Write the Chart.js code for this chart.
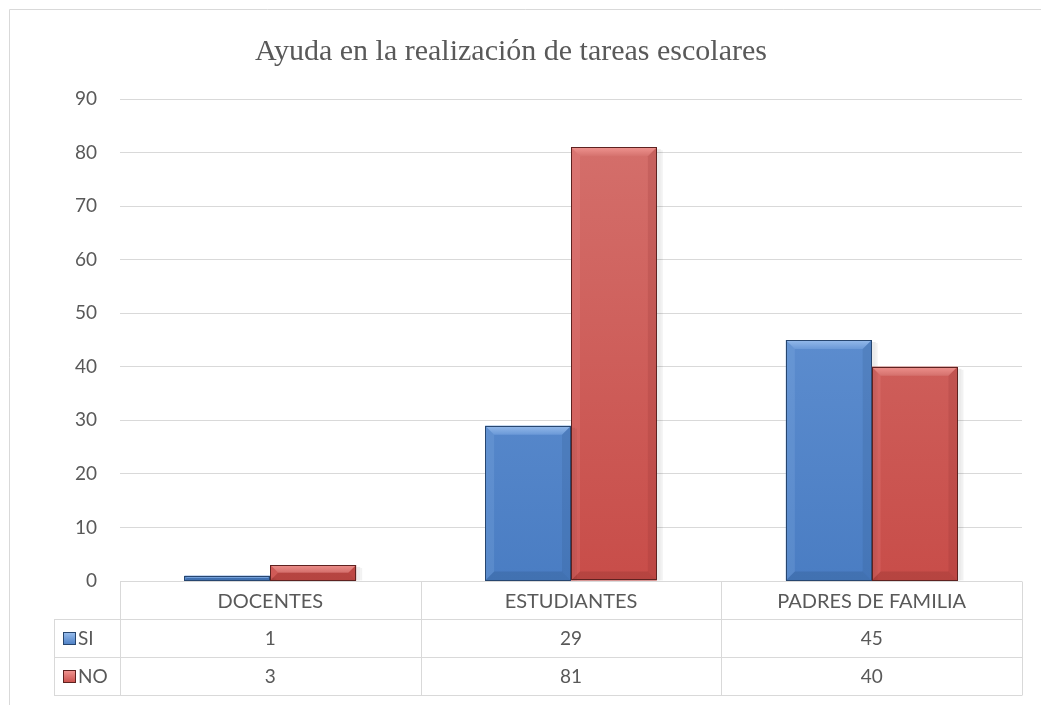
<!DOCTYPE html>
<html>
<head>
<meta charset="utf-8">
<script src="https://cdn.jsdelivr.net/npm/chart.js@4/dist/chart.umd.min.js"></script>
<style>
html,body{margin:0;padding:0;background:#fff;}
#wrap{width:1041px;height:705px;position:relative;}
</style>
</head>
<body>
<div id="wrap"><canvas id="c" width="1041" height="705"></canvas></div>
<script>
const titleText = 'Ayuda en la realización de tareas escolares';
const categories = ['DOCENTES', 'ESTUDIANTES', 'PADRES DE FAMILIA'];
const seriesNames = ['SI', 'NO'];
const siValues = [1, 29, 45];
const noValues = [3, 81, 40];
const yTicks = [0, 10, 20, 30, 40, 50, 60, 70, 80, 90];

const FONT = 'Lato';
const TXT = '#595959';
const LINE = '#d9d9d9';
const ROW_H = 38;
const LEGEND_LEFT = 54;

const palette = {
  SI: {top: '#6d9bd9', bottom: '#4a7dc3', light: '#9cc0ee', dark: '#2c5286', edge: '#27466f'},
  NO: {top: '#d5726e', bottom: '#c84d49', light: '#f29894', dark: '#8a2e2b', edge: '#5e2220'}
};

function grad(ctx, p) {
  const area = ctx.chart.chartArea;
  if (!area) return p.bottom;
  const g = ctx.chart.ctx.createLinearGradient(0, area.top, 0, area.bottom);
  g.addColorStop(0, p.top);
  g.addColorStop(1, p.bottom);
  return g;
}

const framePlugin = {
  id: 'frame',
  beforeDraw(chart) {
    const c = chart.ctx;
    c.save();
    c.strokeStyle = LINE;
    c.lineWidth = 1;
    c.beginPath();
    c.moveTo(9.5, 705); c.lineTo(9.5, 9.5); c.lineTo(1041, 9.5);
    c.stroke();
    c.restore();
  }
};

const bevelPlugin = {
  id: 'bevel',
  afterDatasetsDraw(chart) {
    const c = chart.ctx;
    chart.data.datasets.forEach((ds, di) => {
      const p = palette[ds.label];
      chart.getDatasetMeta(di).data.forEach(el => {
        const {x, y, base, width} = el.getProps(['x','y','base','width'], true);
        const l = x - width/2, r = x + width/2, t = y, b = base;
        const h = b - t;
        const bv = Math.min(9, h/2, width/4);
        c.save();
        c.fillStyle = 'rgba(0,0,0,0.08)';
        c.fillRect(r, t + 2, 4, h - 2);
        c.fillStyle = 'rgba(0,0,0,0.05)';
        c.fillRect(r + 4, t + 3, 2, h - 3);
        c.beginPath();
        c.moveTo(l, t); c.lineTo(r, t); c.lineTo(r - bv, t + bv); c.lineTo(l + bv, t + bv); c.closePath();
        const tg = c.createLinearGradient(0, t, 0, t + bv);
        tg.addColorStop(0, p.light); tg.addColorStop(1, p.top);
        c.fillStyle = tg; c.globalAlpha = 0.9; c.fill();
        c.beginPath();
        c.moveTo(l, t); c.lineTo(l + bv, t + bv); c.lineTo(l + bv, b - bv); c.lineTo(l, b); c.closePath();
        c.fillStyle = p.light; c.globalAlpha = 0.18; c.fill();
        c.beginPath();
        c.moveTo(r, t); c.lineTo(r - bv, t + bv); c.lineTo(r - bv, b - bv); c.lineTo(r, b); c.closePath();
        c.fillStyle = p.dark; c.globalAlpha = 0.18; c.fill();
        c.beginPath();
        c.moveTo(l, b); c.lineTo(l + bv, b - bv); c.lineTo(r - bv, b - bv); c.lineTo(r, b); c.closePath();
        c.fillStyle = p.dark; c.globalAlpha = 0.28; c.fill();
        c.globalAlpha = 1;
        c.strokeStyle = p.edge; c.lineWidth = 1;
        c.strokeRect(Math.round(l) + 0.5, Math.round(t) + 0.5, Math.round(width) - 1, Math.round(h) - 1);
        c.restore();
      });
    });
  }
};

const tablePlugin = {
  id: 'dataTable',
  afterDraw(chart) {
    const c = chart.ctx;
    const xs = chart.scales.x;
    const area = chart.chartArea;
    const top = area.bottom;
    const L = area.left, R = area.right;
    const n = categories.length;
    const step = (R - L) / n;
    c.save();
    c.strokeStyle = LINE;
    c.lineWidth = 1;
    c.beginPath();
    c.moveTo(L, Math.round(top) + 0.5); c.lineTo(R, Math.round(top) + 0.5);
    for (let i = 1; i <= seriesNames.length; i++) {
      const yy = Math.round(top + ROW_H * i) + 0.5;
      c.moveTo(LEGEND_LEFT, yy); c.lineTo(R, yy);
    }
    const bottom = Math.round(top + ROW_H * (seriesNames.length + 1)) + 0.5;
    c.moveTo(LEGEND_LEFT, bottom); c.lineTo(R, bottom);
    c.moveTo(LEGEND_LEFT + 0.5, Math.round(top + ROW_H) + 0.5); c.lineTo(LEGEND_LEFT + 0.5, bottom);
    for (let i = 0; i <= n; i++) {
      const xx = Math.round(L + step * i) + 0.5;
      c.moveTo(xx, Math.round(top) + 0.5); c.lineTo(xx, bottom);
    }
    c.stroke();

    const rows = [siValues, noValues];
    c.font = '19px ' + FONT;
    c.fillStyle = TXT;
    c.textBaseline = 'middle';
    rows.forEach((vals, ri) => {
      const cy = top + ROW_H * (ri + 1) + ROW_H / 2 + 1;
      c.textAlign = 'center';
      c.fillStyle = TXT;
      vals.forEach((v, ci) => {
        c.fillText(String(v), xs.getPixelForValue(ci), cy);
      });
      const p = palette[seriesNames[ri]];
      const kx = LEGEND_LEFT + 9, ky = Math.round(cy - 7), ks = 13;
      const g = c.createLinearGradient(0, ky, 0, ky + ks);
      g.addColorStop(0, p.light); g.addColorStop(1, p.bottom);
      c.fillStyle = g;
      c.fillRect(kx, ky, ks, ks);
      c.strokeStyle = p.edge;
      c.strokeRect(kx + 0.5, ky + 0.5, ks - 1, ks - 1);
      c.fillStyle = TXT;
      c.textAlign = 'left';
      c.fillText(seriesNames[ri], kx + ks + 2, cy);
    });
    c.restore();
  }
};

new Chart(document.getElementById('c'), {
  type: 'bar',
  data: {
    labels: categories,
    datasets: [
      {label: seriesNames[0], data: siValues, backgroundColor: ctx => grad(ctx, palette.SI), borderWidth: 0},
      {label: seriesNames[1], data: noValues, backgroundColor: ctx => grad(ctx, palette.NO), borderWidth: 0}
    ]
  },
  options: {
    responsive: false,
    animation: false,
    devicePixelRatio: 1,
    layout: {padding: {left: 0, right: 19, top: 0, bottom: 10}},
    categoryPercentage: 0.571,
    barPercentage: 1.0,
    plugins: {
      legend: {display: false},
      tooltip: {enabled: false},
      title: {
        display: true,
        text: titleText,
        color: TXT,
        font: {family: 'Liberation Serif', size: 30, weight: 'normal'},
        padding: {top: 34, bottom: 29}
      }
    },
    scales: {
      x: {
        grid: {display: false, drawTicks: false},
        border: {display: false},
        ticks: {color: TXT, font: {family: FONT, size: 20}, padding: 9, maxRotation: 0, autoSkip: false},
        afterFit(s) { s.height = ROW_H * 3; }
      },
      y: {
        min: 0, max: 90,
        afterBuildTicks(s) { s.ticks = yTicks.map(v => ({value: v})); },
        grid: {color: LINE, lineWidth: 1, drawTicks: false},
        border: {display: false},
        ticks: {color: TXT, font: {family: FONT, size: 19}, padding: 23},
        afterFit(s) { s.width = 120; }
      }
    }
  },
  plugins: [framePlugin, bevelPlugin, tablePlugin]
});
</script>
</body>
</html>
